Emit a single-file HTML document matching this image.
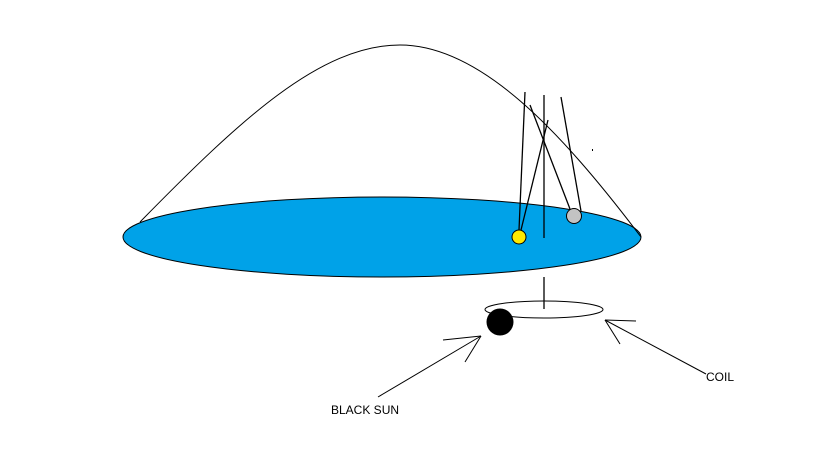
<!DOCTYPE html>
<html><head><style>body{margin:0;background:#fff}svg{display:block}</style></head><body>
<svg width="816" height="460" viewBox="0 0 816 460" xmlns="http://www.w3.org/2000/svg">
<rect width="816" height="460" fill="#fff"/>
<ellipse cx="382" cy="237" rx="259" ry="40" fill="#00a2e8" stroke="#000" stroke-width="1"/>
<path d="M140,222 C240,120 320,45 400,45 C480,45 560,130 641,237" fill="none" stroke="#000" stroke-width="1"/>
<g stroke="#000" stroke-width="1.3" fill="none">
<line x1="525" y1="92" x2="519" y2="230"/>
<line x1="548" y1="120" x2="521" y2="230"/>
<line x1="544" y1="95" x2="544" y2="238"/>
<line x1="530" y1="105" x2="570" y2="209"/>
<line x1="561" y1="97" x2="581" y2="211"/>
<line x1="544" y1="277" x2="544" y2="309"/>
</g>
<circle cx="519" cy="237" r="7" fill="#ffea00" stroke="#000"/>
<circle cx="574" cy="216" r="7.5" fill="#c3c3c3" stroke="#000"/>
<rect x="592" y="149" width="1" height="2" fill="#000"/>
<ellipse cx="544" cy="309.5" rx="59" ry="8.5" fill="none" stroke="#000"/>
<circle cx="500" cy="322" r="13.5" fill="#000"/>
<g stroke="#000" stroke-width="1" fill="none">
<line x1="378" y1="397" x2="481" y2="336"/>
<line x1="443" y1="340" x2="481" y2="336"/>
<line x1="465" y1="362" x2="481" y2="336"/>
<line x1="706" y1="374" x2="605" y2="320"/>
<line x1="636" y1="321" x2="605" y2="320"/>
<line x1="620" y1="344" x2="605" y2="320"/>
</g>
<text x="331" y="414" font-family="Liberation Sans, sans-serif" font-size="12" fill="#000">BLACK SUN</text>
<text x="706" y="381" font-family="Liberation Sans, sans-serif" font-size="12" fill="#000">COIL</text>
</svg>
</body></html>
